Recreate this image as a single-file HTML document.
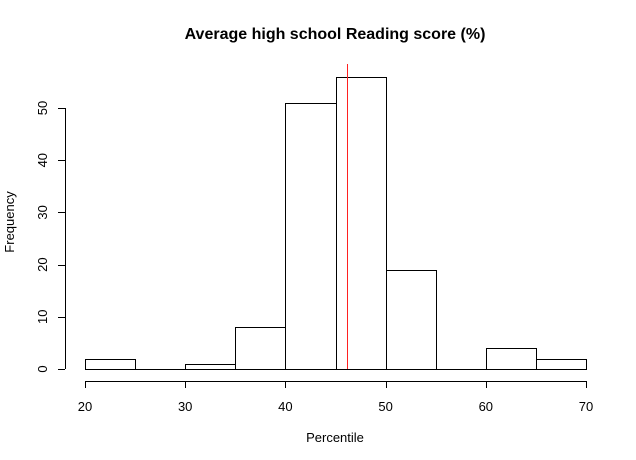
<!DOCTYPE html>
<html><head><meta charset="utf-8"><style>
body{margin:0;background:#fff}
svg{display:block;font-family:"Liberation Sans",Arial,sans-serif}
</style></head><body>
<svg id="chart" width="636" height="460">
<text x="335" y="39" text-anchor="middle" font-weight="bold" font-size="16">Average high school Reading score (%)</text>
<text x="335" y="442" text-anchor="middle" font-size="13">Percentile</text>
<text transform="translate(14,222) rotate(-90)" text-anchor="middle" font-size="13">Frequency</text>
<g id="bars"></g><g id="xaxis"></g><g id="yaxis"></g><g id="ref"></g>
</svg>
<script>
const binStarts=[20,25,30,35,40,45,50,55,60,65];
const binWidth=5;
const counts=[2,0,1,8,51,56,19,0,4,2];
const xTicks=[20,30,40,50,60,70];
const yTicks=[0,10,20,30,40,50];
const meanValue=46.2;
const NS='http://www.w3.org/2000/svg';
const sx=v=>85+(v-20)*10.02;
const sy=v=>369-v*5.22;
function mk(t,a,p){const e=document.createElementNS(NS,t);for(const k in a)e.setAttribute(k,a[k]);p.appendChild(e);return e;}
const bars=document.getElementById('bars');
binStarts.forEach((b,i)=>{
 const x0=Math.round(sx(b))+0.5,x1=Math.round(sx(b+binWidth))+0.5,y0=Math.round(sy(0))+0.5,y1=Math.round(sy(counts[i]))+0.5;
 const r=mk('path',{d:`M${x0},${y0}V${y1}H${x1}V${y0}Z`,fill:'none',stroke:'#000','stroke-width':1},bars);
 
 
});
const xa=document.getElementById('xaxis');
const xl=mk('line',{x1:sx(xTicks[0]),x2:sx(xTicks[xTicks.length-1]),y1:381.5,y2:381.5,stroke:'#000'},xa);


xTicks.forEach(t=>{
 mk('line',{x1:Math.round(sx(t))+0.5,x2:Math.round(sx(t))+0.5,y1:381,y2:388,stroke:'#000'},xa);
 const tx=mk('text',{x:sx(t),y:411,'text-anchor':'middle','font-size':13},xa);tx.textContent=t;
 
 
});
const ya=document.getElementById('yaxis');
const yl=mk('line',{x1:65.5,x2:65.5,y1:sy(yTicks[0]),y2:sy(yTicks[yTicks.length-1]),stroke:'#000'},ya);


yTicks.forEach(t=>{
 mk('line',{x1:58,x2:65,y1:Math.round(sy(t))+0.5,y2:Math.round(sy(t))+0.5,stroke:'#000'},ya);
 const tx=mk('text',{transform:`translate(47,${sy(t)}) rotate(-90)`,'text-anchor':'middle','font-size':13},ya);tx.textContent=t;
 
 
});
const mx=Math.floor(sx(meanValue));
const ml=mk('rect',{x:mx,y:64,width:1,height:305,fill:'#ff0000',stroke:'none'},document.getElementById('ref'));


ml.style.fill='#ff2020';
</script>
</body></html>
